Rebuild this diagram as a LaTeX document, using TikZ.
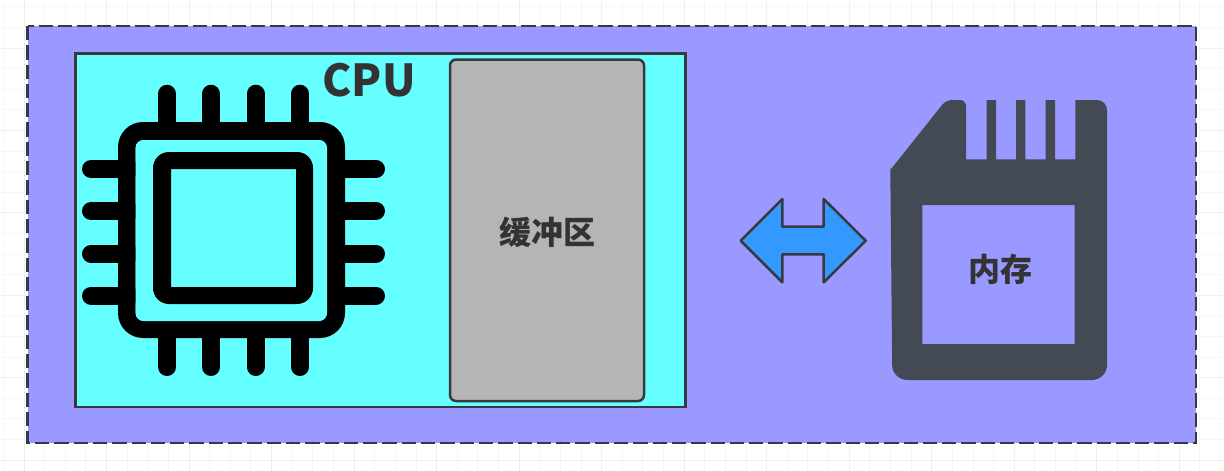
\documentclass[tikz,border=0pt]{standalone}
\usepackage{fontspec}
\newfontfamily\cjk{Noto Sans CJK SC}
\definecolor{gridminor}{HTML}{F6F6F6}
\definecolor{gridmajor}{HTML}{EFEFEF}
\definecolor{edgedark}{HTML}{36393D}
\definecolor{outerfill}{HTML}{9999FF}
\definecolor{cpufill}{HTML}{66FFFF}
\definecolor{buffill}{HTML}{B5B5B5}
\definecolor{cardfill}{HTML}{444A54}
\definecolor{arrowfill}{HTML}{3399FF}
\definecolor{labeltext}{HTML}{333333}
\tikzset{
  gridthin/.style={draw=gridminor,line width=1pt},
  gridthick/.style={draw=gridmajor,line width=1pt},
  outerbox/.style={draw=edgedark,fill=outerfill,line width=2.5pt,dash pattern=on 14.3pt off 5pt},
  cpubox/.style={draw=edgedark,fill=cpufill,line width=2.5pt},
  bufbox/.style={draw=edgedark,fill=buffill,line width=2.5pt,rounded corners=6pt},
  pin/.style={draw=black,line width=18pt,line cap=round},
  chipbody/.style={fill=black,even odd rule},
  cardshape/.style={fill=cardfill,even odd rule},
  bothways/.style={draw=edgedark,fill=arrowfill,line width=2.5pt,line join=round},
  cjklabel/.style={text=labeltext,inner sep=0pt,font=\cjk\bfseries\fontsize{32}{32}\selectfont},
  cpulabel/.style={text=labeltext,inner sep=0pt,font=\cjk\bfseries\fontsize{44}{44}\selectfont}
}
\begin{document}
\begin{tikzpicture}[x=1pt,y=-1pt]
\useasboundingbox (0,0) rectangle (1224,471);
\fill[white] (0,0) rectangle (1224,471);
% background grid
\foreach \i in {0,...,59}{
  \pgfmathsetmacro{\xx}{3.4+20.63*\i}
  \pgfmathtruncatemacro{\mm}{mod(\i,4)}
  \ifnum\mm=1 \draw[gridthick] (\xx,0) -- (\xx,471); \else \draw[gridthin] (\xx,0) -- (\xx,471); \fi
}
\foreach \i in {0,...,23}{
  \pgfmathsetmacro{\yy}{6.8+20.6*\i}
  \pgfmathtruncatemacro{\mm}{mod(\i,4)}
  \ifnum\mm=2 \draw[gridthick] (0,\yy) -- (1224,\yy); \else \draw[gridthin] (0,\yy) -- (1224,\yy); \fi
}
% containers
\path[outerbox] (27.7,25.9) rectangle (1196,443.2);
\path[cpubox] (75.5,53.5) rectangle (685.5,407);
\path[bufbox] (450,59.5) rectangle (644,401);
% chip pins
\foreach \x in {167,211,255.5,300}{
  \draw[pin] (\x,93.7) -- (\x,130);
  \draw[pin] (\x,330) -- (\x,367);
}
\foreach \y in {169,211,253.7,295.7}{
  \draw[pin] (91,\y) -- (130,\y);
  \draw[pin] (335,\y) -- (376,\y);
}
% chip body
\fill[chipbody]
  [rounded corners=25pt] (118,122) rectangle (345,338)
  [rounded corners=8pt] (135.5,140) rectangle (327,321);
\fill[cpufill, rounded corners=8pt] (135.5,140) rectangle (327,321);
\fill[chipbody]
  [rounded corners=16pt] (153,152) rectangle (313,304)
  [sharp corners] (171,169) rectangle (296,287);
% memory card
\fill[cardshape]
  [rounded corners=6pt] (890.3,170) -- (946,100) -- (966,100)
  [sharp corners] -- (966,159.3) -- (986.7,159.3) -- (986.7,100) -- (996,100) -- (996,159.3)
  -- (1016,159.3) -- (1016,100) -- (1025.3,100) -- (1025.3,159.3) -- (1045.7,159.3)
  -- (1045.7,100) -- (1055,100) -- (1055,159.3) -- (1075.3,159.3) -- (1075.3,100)
  [rounded corners=10pt] -- (1107,100)
  [rounded corners=15pt] -- (1107,380) -- (892.3,380)
  [rounded corners=2pt] -- (890.3,170) -- cycle
  [sharp corners] (922.3,205) rectangle (1074.7,344);
% double arrow
\path[bothways] (740.7,240.7) -- (782.3,199) -- (782.3,226.7) -- (823.7,226.7) -- (823.7,199)
  -- (865.7,240.7) -- (823.7,282.3) -- (823.7,254.3) -- (782.3,254.3) -- (782.3,282.3) -- cycle;
% labels
\node[cpulabel] (cpu) at (369,80.5) {CPU};
\node[cjklabel] (buf) at (547,232.5) {缓冲区};
\node[cjklabel] (mem) at (1000,269) {内存};
\end{tikzpicture}
\end{document}
